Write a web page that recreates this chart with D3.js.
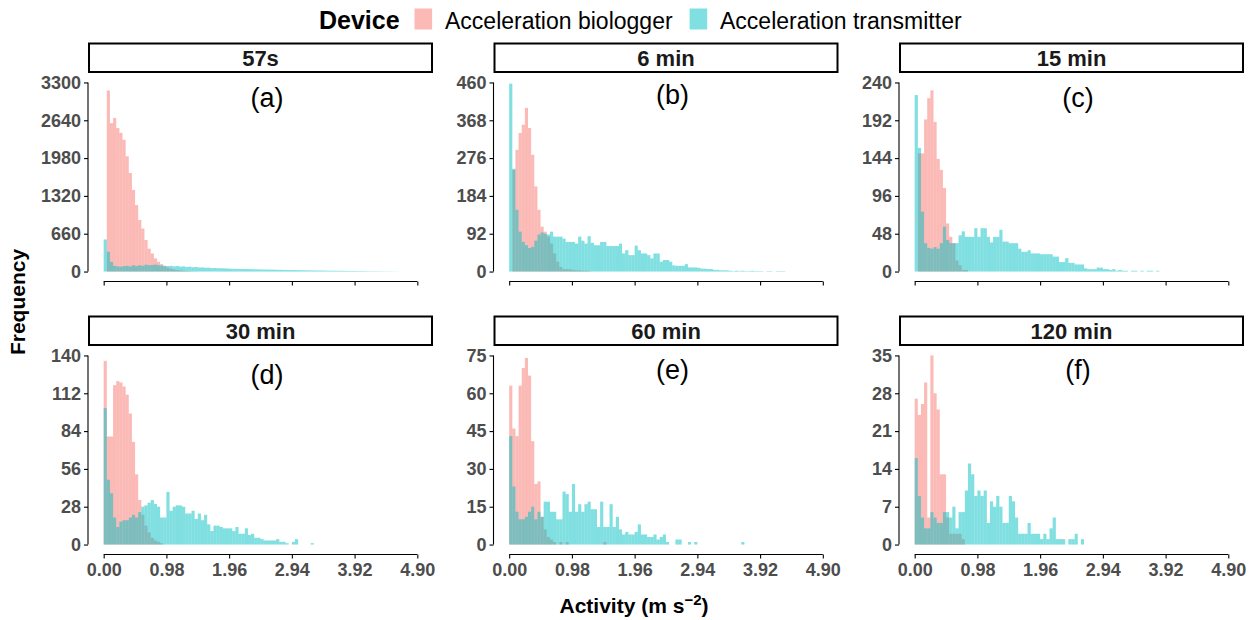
<!DOCTYPE html>
<html>
<head>
<meta charset="utf-8">
<script src="https://cdn.jsdelivr.net/npm/d3@7"></script>
<style>
  html, body { margin: 0; padding: 0; background: #fff; }
  svg { display: block; }
</style>
</head>
<body>
<svg id="chart" width="1255" height="620"></svg>
<script>
// ---------------- DATA ----------------
const devices = ["Acceleration biologger", "Acceleration transmitter"];
const panelTitles = ["57s", "6 min", "15 min", "30 min", "60 min", "120 min"];
const panelLabels = ["(a)", "(b)", "(c)", "(d)", "(e)", "(f)"];
const binWidth = 0.049; // histogram bin width (m s^-2)
const xTicks = [0.00, 0.98, 1.96, 2.94, 3.92, 4.90];

const yTicks57s = [0, 660, 1320, 1980, 2640, 3300];
const yTicks6min = [0, 92, 184, 276, 368, 460];
const yTicks15min = [0, 48, 96, 144, 192, 240];
const yTicks30min = [0, 28, 56, 84, 112, 140];
const yTicks60min = [0, 15, 30, 45, 60, 75];
const yTicks120min = [0, 7, 14, 21, 28, 35];

// counts per bin (bin i covers [i*binWidth, (i+1)*binWidth))
const biologger57s = [0,3160,2590,2680,2505,2420,2300,2010,1720,1425,1160,900,750,550,400,315,230,170,128,93,70,50,35,25,18,12,8,5,3,2];
const transmitter57s = [560,345,170,100,90,85,95,100,90,110,95,110,100,120,110,115,120,110,105,100,95,100,90,95,85,90,80,85,75,80,
  70,72,65,68,60,62,58,58,55,52,50,48,47,45,44,43,42,40,40,38,37,35,34,33,32,30,30,28,28,27,
  26,25,24,23,22,21,20,19,18,18,16,15,15,14,13,12,12,11,10,10,9,8,8,7,6,6,5,5,4,4,3,3,2,2];

const biologger6min = [0,247,296,337,357,398,349,284,207,150,109,97,85,68,44,24,11,6,6,5,4,3,3,2,2,1];
const transmitter6min = [457,250,150,97,72,64,57,60,75,90,95,92,90,97,85,85,85,80,72,72,72,68,85,75,68,86,70,64,64,72,
  72,62,62,62,62,68,44,52,40,40,63,52,44,44,40,32,44,44,24,28,28,24,15,14,14,14,18,10,10,10,
  9,7,7,6,6,4,4,3,3,3,2,1,2,1,2,1,1,2,1,1,1,0,1,1,0,1,1,1];

const biologger15min = [0,150,150,193,220,230,190,143,129,106,61,44,36,14,8,2,2];
const transmitter15min = [224,157,76,36,30,29,31,29,36,57,40,36,36,36,46,51,44,44,44,55,44,55,55,44,37,44,44,53,38,38,
  36,36,36,29,25,25,27,23,23,23,22,22,22,22,19,19,12,12,17,11,11,9,9,9,4,3,3,3,5,5,
  3,3,2,3,1,2,1,1,0,1,1,0,1,0,1,1,0,1];

const biologger30min = [136,80,80,118,121,120,117,111,97,76,52,33,22,14,9,5,3,2,1];
const transmitter30min = [101,48,38,20,13,17,18,18,20,22,20,24,28,29,31,33,30,28,20,20,39,25,28,29,29,28,23,23,25,19,
  23,18,22,15,10,14,14,13,12,12,12,10,13,8,8,12,7,8,5,5,4,3,3,3,3,4,2,2,1,0,
  2,4,0,0,0,0,1];

const biologger60min = [63,46,43,63,70,74,67,41,24,25,11,6,3,2,1,0,1,0,1,0,0,0,0,0,0,0,0,0,0,0,1];
const transmitter60min = [43,23,13,10,10,11,13,15,10,13,11,17,17,13,13,10,10,21,20,13,24,13,16,13,16,17,14,14,7,17,
  7,7,16,7,11,6,4,5,4,4,5,8,4,4,3,3,4,2,3,4,1,0,0,2,2,0,0,1,0,1,
  0,0,0,0,0,0,0,0,0,0,0,0,0,0,1];

const biologger120min = [27,24,26,30,5,35,28,25,13,13,5,2,2,2,2,1];
const transmitter120min = [16,9,5,3,3,6,5,4,4,6,6,5,7,3,6,6,10,15,13,9,10,9,10,4,8,7,9,7,4,4,
  9,8,5,2,2,2,4,2,2,2,1,2,1,3,5,1,1,1,0,1,1,2,0,1];

// ---------------- LAYOUT ----------------
const W = 1255, H = 620;
const colLeft = [88, 493.5, 899];
const rowTop = [73, 346];
const panelW = 345, panelH = 208;
const stripH = 30.5;
const labelOffset = [24.5, 21, 24, 28, 23, 23];
const font = "'Liberation Sans', Arial, Helvetica, sans-serif";
const colors = ["rgba(248,118,109,0.5)", "rgba(0,191,196,0.5)"];
const tickGrey = "#4d4d4d";

const panelData = [
  [biologger57s, transmitter57s, yTicks57s],
  [biologger6min, transmitter6min, yTicks6min],
  [biologger15min, transmitter15min, yTicks15min],
  [biologger30min, transmitter30min, yTicks30min],
  [biologger60min, transmitter60min, yTicks60min],
  [biologger120min, transmitter120min, yTicks120min]
];

const svg = d3.select("#chart").attr("font-family", font);

// legend
const leg = svg.append("g");
leg.append("text").attr("x", 319).attr("y", 28.5).attr("font-size", 25).attr("font-weight", "bold")
  .attr("fill", "#000").text("Device");
const legKeyX = [414.5, 689.6], legTextX = [445, 720];
devices.forEach((d, i) => {
  leg.append("rect").attr("x", legKeyX[i]).attr("y", 8.5).attr("width", 17.6).attr("height", 21)
    .attr("fill", colors[i]);
  leg.append("text").attr("x", legTextX[i]).attr("y", 28.5).attr("font-size", 23)
    .attr("fill", "#000").text(d);
});

panelTitles.forEach((title, p) => {
  const col = p % 3, row = Math.floor(p / 3);
  const left = colLeft[col], top = rowTop[row];
  const [bio, tra, yTicks] = panelData[p];
  const yMax = yTicks[yTicks.length - 1];
  const xMin = xTicks[0], xMaxV = xTicks[xTicks.length - 1];
  const xPad = (xMaxV - xMin) * 0.05, yPad = yMax * 0.05;

  const x = d3.scaleLinear().domain([xMin - xPad, xMaxV + xPad]).range([left, left + panelW]);
  const y = d3.scaleLinear().domain([-yPad, yMax + yPad]).range([top + panelH, top]);

  const g = svg.append("g");

  // strip
  g.append("rect").attr("x", left + 1).attr("y", top - stripH + 1)
    .attr("width", panelW - 2).attr("height", stripH - 2)
    .attr("fill", "#fff").attr("stroke", "#000").attr("stroke-width", 2);
  g.append("text").attr("x", left + panelW / 2).attr("y", top - stripH / 2).attr("dy", "0.36em")
    .attr("text-anchor", "middle").attr("font-size", 22).attr("font-weight", "bold")
    .attr("fill", "#1a1a1a").text(title);

  // bars
  [bio, tra].forEach((series, s) => {
    g.append("g").selectAll("rect")
      .data(series.map((v, i) => ({ i, v })).filter(d => d.v > 0))
      .join("rect")
      .attr("x", d => x(d.i * binWidth))
      .attr("width", d => x((d.i + 1) * binWidth) - x(d.i * binWidth))
      .attr("y", d => y(d.v))
      .attr("height", d => y(0) - y(d.v))
      .attr("fill", colors[s]);
  });

  // panel label
  g.append("text").attr("x", x(2.55)).attr("y", top + labelOffset[p]).attr("dy", "0.36em")
    .attr("text-anchor", "middle").attr("font-size", 27).attr("fill", "#000").text(panelLabels[p]);

  // y axis (capped at first and last break)
  const yAxis = d3.axisLeft(y).tickValues(yTicks).tickSize(4).tickPadding(3).tickFormat(d3.format("d"));
  const ya = g.append("g").attr("transform", `translate(${left},0)`).call(yAxis);
  ya.select(".domain").remove();
  ya.append("line").attr("x1", 0).attr("x2", 0).attr("y1", y(yMax)).attr("y2", y(0))
    .attr("stroke", "#000").attr("stroke-width", 1.1);
  ya.selectAll(".tick line").attr("stroke", "#000").attr("stroke-width", 1.1);
  ya.selectAll(".tick text").attr("font-size", 18).attr("font-weight", "bold")
    .attr("fill", tickGrey).attr("font-family", font);

  // x axis
  const xAxis = d3.axisBottom(x).tickValues(xTicks).tickSize(4).tickPadding(5)
    .tickFormat(row === 1 ? d3.format(".2f") : () => "");
  const xa = g.append("g").attr("transform", `translate(0,${top + panelH + 0.5})`).call(xAxis);
  xa.select(".domain").remove();
  xa.append("line").attr("x1", x(xMin)).attr("x2", x(xMaxV)).attr("y1", 0).attr("y2", 0)
    .attr("stroke", "#000").attr("stroke-width", 1.1);
  xa.selectAll(".tick line").attr("stroke", "#000").attr("stroke-width", 1.1);
  xa.selectAll(".tick text").attr("font-size", 18).attr("font-weight", "bold")
    .attr("fill", tickGrey).attr("font-family", font);
});

// axis titles
svg.append("text").attr("transform", "translate(25,302) rotate(-90)")
  .attr("text-anchor", "middle").attr("font-size", 21).attr("font-weight", "bold")
  .attr("fill", "#000").text("Frequency");
const xt = svg.append("text").attr("x", 634).attr("y", 613).attr("text-anchor", "middle")
  .attr("font-size", 21).attr("font-weight", "bold").attr("fill", "#000");
xt.append("tspan").text("Activity (m s");
xt.append("tspan").attr("dy", -8).attr("font-size", 15).text("\u22122");
xt.append("tspan").attr("dy", 8).text(")");
</script>
</body>
</html>
